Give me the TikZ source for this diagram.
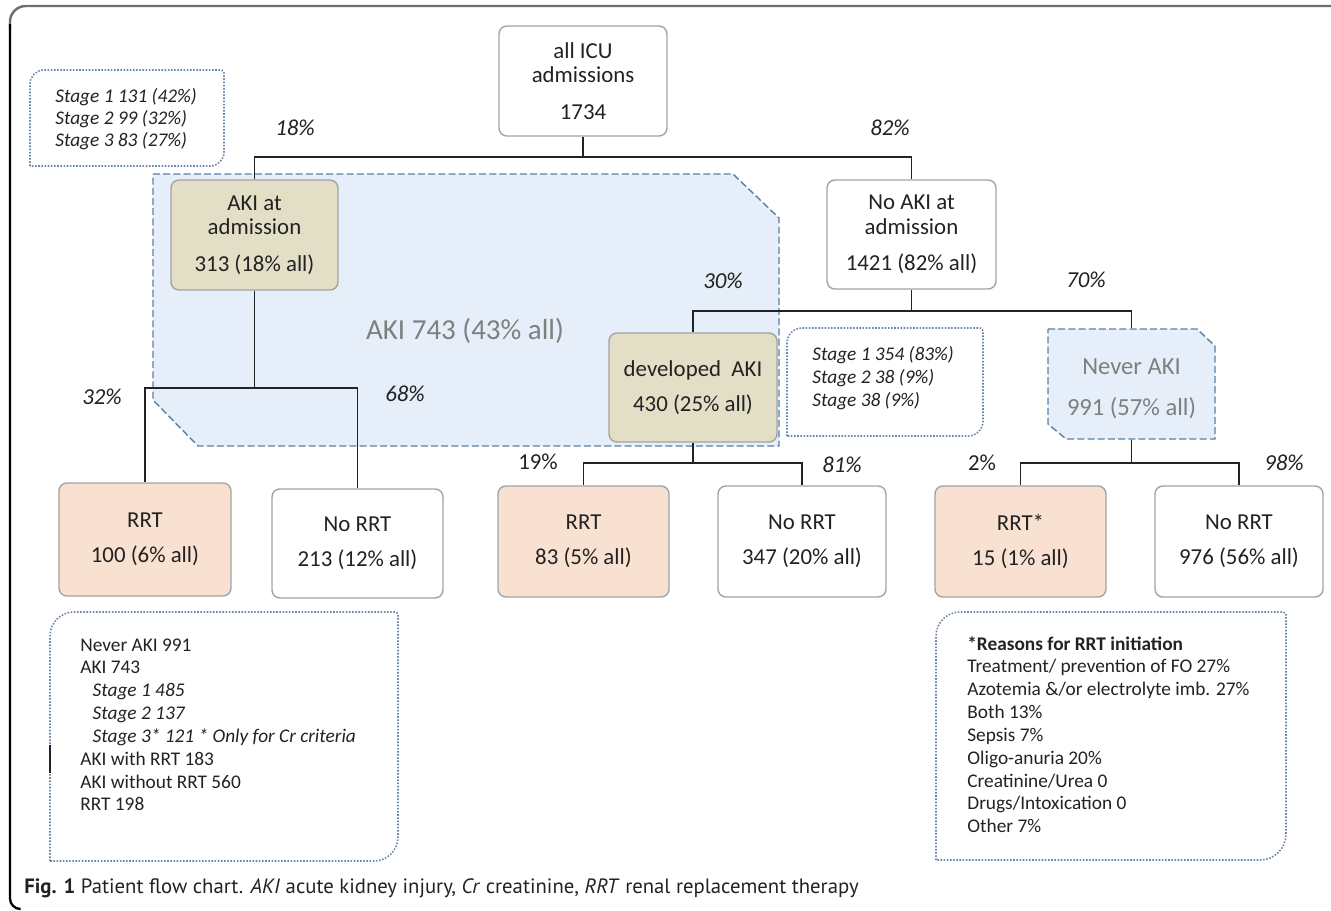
\documentclass[tikz,border=0pt]{standalone}
\usepackage{fontspec}
\setmainfont{Carlito}
\newfontfamily\capfont{PT Sans}
\usetikzlibrary{positioning}

\definecolor{tanfill}{HTML}{E3DEC6}
\definecolor{peachfill}{HTML}{F8E1D0}
\definecolor{regionfill}{HTML}{E6EFF9}
\definecolor{dashblue}{HTML}{5A80A4}
\definecolor{dotblue}{HTML}{6A86A6}
\definecolor{boxgray}{HTML}{A3A3A3}
\definecolor{labelgray}{HTML}{7F7F7F}
\definecolor{textblack}{HTML}{222222}
\definecolor{framegray}{HTML}{6E6E6E}

\begin{document}
\begin{tikzpicture}[
        x=0.02cm, y=-0.02cm,
        block/.style={rectangle, draw=boxgray, line width=0.8pt, rounded corners=4.5pt, fill=white, text=textblack, align=center, font=\fontsize{13}{14}\selectfont, minimum width=3.36cm, minimum height=2.2cm, inner sep=2pt},
        akibox/.style={block, fill=tanfill},
        rrtbox/.style={block, fill=peachfill},
        neverbox/.style={block, draw=none, fill=none, text=labelgray, font=\fontsize{14}{15}\selectfont},
        line/.style={draw, line width=1.1pt, textblack},
        pct/.style={font=\fontsize{13}{14}\selectfont\itshape, text=textblack},
        pctup/.style={font=\fontsize{13}{14}\selectfont, text=textblack},
        note/.style={anchor=base west, inner sep=0pt, font=\fontsize{11}{13}\selectfont, text=textblack},
        stagenote/.style={note, font=\fontsize{11}{12.7}\selectfont\itshape},
        notebd/.style={draw=dotblue, line width=0.9pt, dash pattern=on 0.9pt off 0.9pt},
        region/.style={draw=dashblue, fill=regionfill, line width=0.8pt, dash pattern=on 4pt off 1.8pt}
    ]
    \useasboundingbox (0,0) rectangle (1331,910);

    % frame
    \draw[framegray, line width=1.4pt] (1331,6) [rounded corners=9pt] -- (10,6) -- (10,30);
    \draw[black, line width=1.3pt] (10,24) [rounded corners=6pt] -- (10,909) -- (20,909);

    % shaded groups
    \draw[region] (153,174) -- (733,174) -- (779,218) -- (779,446) -- (198,446) -- (153,400) -- cycle;
    \draw[region] (1048,329) -- (1197,329) -- (1215,346) -- (1215,439) -- (1066,439) -- (1048,424) -- cycle;
    \node[font=\fontsize{16.5}{18}\selectfont, text=labelgray] (akiall) at (465,331) {AKI 743 (43\% all)};

    % nodes
    \node[block] (all) at (583,81) {all ICU\\admissions\\[7pt]1734};
    \node[akibox, minimum width=3.34cm] (akiadm) at (254.5,235) {AKI at\\admission\\[7pt]313 (18\% all)};
    \node[block, minimum width=3.38cm, minimum height=2.18cm] (noaki) at (911.5,234.5) {No AKI at\\admission\\[7pt]1421 (82\% all)};
    \node[akibox, minimum height=2.18cm] (devaki) at (693,387.5) {developed\ \ AKI\\[6pt]430 (25\% all)};
    \node[neverbox, minimum width=3.34cm] (neveraki) at (1131.5,384) {\rule{0pt}{14.5pt}Never AKI\\[8pt]991 (57\% all)};

    \node[rrtbox, minimum width=3.44cm, minimum height=2.26cm] (rrta) at (145,539.5) {RRT\\[6pt]100 (6\% all)};
    \node[block, minimum width=3.42cm, minimum height=2.18cm] (norrta) at (357.5,543.5) {No RRT\\[6pt]213 (12\% all)};
    \node[rrtbox, minimum width=3.42cm, minimum height=2.22cm] (rrtb) at (583.5,541.5) {RRT\\[6pt]83 (5\% all)};
    \node[block, minimum width=3.36cm, minimum height=2.22cm] (norrtb) at (802,541.5) {No RRT\\[6pt]347 (20\% all)};
    \node[rrtbox, minimum width=3.42cm, minimum height=2.22cm] (rrtc) at (1020.5,541.5) {RRT*\\[6pt]15 (1\% all)};
    \node[block, minimum width=3.36cm, minimum height=2.22cm] (norrtc) at (1239,541.5) {No RRT\\[6pt]976 (56\% all)};

    % connectors
    \coordinate (j0) at (583,157);
    \coordinate (j1) at (254.5,388);
    \coordinate (j2) at (911.5,311);
    \coordinate (j3) at (693,463);
    \coordinate (j4) at (1131.5,463);
    \path[line] (all.south) -- (j0);
    \path[line] (j0) -| (akiadm.north);
    \path[line] (j0) -| (noaki.north);
    \path[line] (akiadm.south) -- (j1);
    \path[line] (j1) -| (rrta.north);
    \path[line] (j1) -| (norrta.north);
    \path[line] (noaki.south) -- (j2);
    \path[line] (j2) -| (devaki.north);
    \path[line] (j2) -| (neveraki.north);
    \path[line] (devaki.south) -- (j3);
    \path[line] (j3) -| (rrtb.north);
    \path[line] (j3) -| (norrtb.north);
    \path[line] (neveraki.south) -- (j4);
    \path[line] (j4) -| (rrtc.north);
    \path[line] (j4) -| (norrtc.north);

    % percentages
    \node[pct] (p18) at (295,128) {18\%};
    \node[pct] (p82) at (890,128) {82\%};
    \node[pct] (p32) at (102,397) {32\%};
    \node[pct] (p68) at (405,394) {68\%};
    \node[pct] (p30) at (723,281) {30\%};
    \node[pct] (p70) at (1086,280) {70\%};
    \node[pctup] (p19) at (538,462) {19\%};
    \node[pct] (p81) at (842,465) {81\%};
    \node[pctup] (p2) at (982,463) {2\%};
    \node[pct] (p98) at (1284,463) {98\%};

    % notes
    \draw[notebd] (30,166) -- (30,84) arc[start angle=180, end angle=270, radius=14] -- (221,70) arc[start angle=270, end angle=360, radius=3] -- (224,152) arc[start angle=0, end angle=90, radius=14] -- cycle;
    \node[stagenote] (stagea) at (55,102) {\begin{tabular}[t]{@{}l@{}}Stage 1 131 (42\%)\\Stage 2 99 (32\%)\\Stage 3 83 (27\%)\end{tabular}};

    \draw[notebd] (787,436) -- (787,343) arc[start angle=180, end angle=270, radius=15] -- (980,328) arc[start angle=270, end angle=360, radius=3] -- (983,421) arc[start angle=0, end angle=90, radius=15] -- cycle;
    \node[stagenote, font=\fontsize{11}{13.2}\selectfont\itshape] (stageb) at (812,360) {\begin{tabular}[t]{@{}l@{}}Stage 1 354 (83\%)\\Stage 2 38 (9\%)\\Stage 38 (9\%)\end{tabular}};

    \draw[notebd] (50,861) -- (50,636) arc[start angle=180, end angle=270, radius=24] -- (395,612) arc[start angle=270, end angle=360, radius=3] -- (398,837) arc[start angle=0, end angle=90, radius=24] -- cycle;
    \draw[textblack, line width=1pt] (50,745) -- (50,773);
    \node[note] (totals) at (80,651) {\begin{tabular}[t]{@{}l@{}}Never AKI 991\\AKI 743\\
        \hspace*{7pt}\itshape Stage 1 485\\
        \hspace*{7pt}\itshape Stage 2 137\\
        \hspace*{7pt}\itshape Stage 3* 121 * Only for Cr criteria\\
        AKI with RRT 183\\AKI without RRT 560\\RRT 198\end{tabular}};

    \draw[notebd] (936,860) -- (936,636) arc[start angle=180, end angle=270, radius=24] -- (1283,612) arc[start angle=270, end angle=360, radius=3] -- (1286,834) arc[start angle=0, end angle=90, radius=26] -- cycle;
    \node[note] (reasons) at (967,650) {\begin{tabular}[t]{@{}l@{}}\textbf{*Reasons for RRT initiation}\\Treatment/ prevention of FO 27\%\\Azotemia \&/or electrolyte imb. 27\%\\Both 13\%\\Sepsis 7\%\\Oligo-anuria 20\%\\Creatinine/Urea 0\\Drugs/Intoxication 0\\Other 7\%\end{tabular}};

    % caption
    \node[anchor=base west, inner sep=0pt, font=\capfont\fontsize{11.8}{13}\selectfont, text=textblack] (caption) at (24,893) {\textbf{Fig. 1} Patient flow chart. \textit{AKI} acute kidney injury, \textit{Cr} creatinine, \textit{RRT} renal replacement therapy};
\end{tikzpicture}
\end{document}
